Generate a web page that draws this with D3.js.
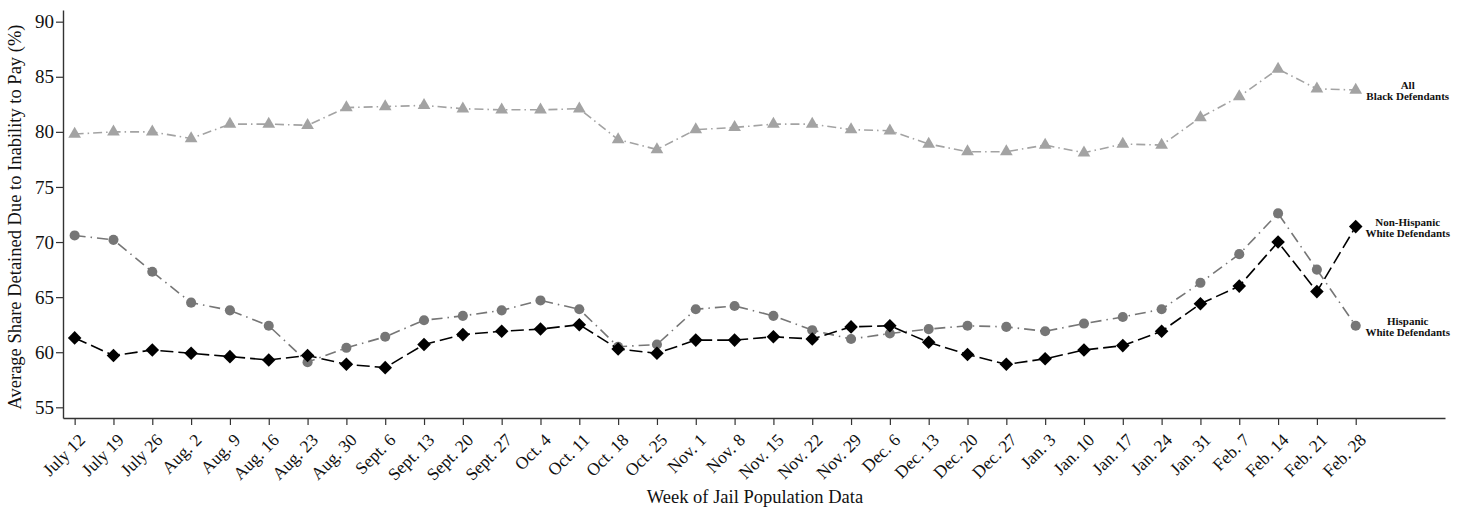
<!DOCTYPE html>
<html lang="en">
<head>
<meta charset="UTF-8">
<title>Share Detained Due to Inability to Pay</title>
<script src="https://d3js.org/d3.v7.min.js"></script>
<style>
  body { margin: 0; background: #fff; }
  svg { display: block; font-family: "Liberation Serif", "DejaVu Serif", serif; }
</style>
</head>
<body>
<div id="chart"></div>
<script>
// weeks of jail population data
const weeks = ["July 12", "July 19", "July 26", "Aug. 2", "Aug. 9", "Aug. 16", "Aug. 23", "Aug. 30",
  "Sept. 6", "Sept. 13", "Sept. 20", "Sept. 27", "Oct. 4", "Oct. 11", "Oct. 18", "Oct. 25",
  "Nov. 1", "Nov. 8", "Nov. 15", "Nov. 22", "Nov. 29", "Dec. 6", "Dec. 13", "Dec. 20", "Dec. 27",
  "Jan. 3", "Jan. 10", "Jan. 17", "Jan. 24", "Jan. 31", "Feb. 7", "Feb. 14", "Feb. 21", "Feb. 28"];

const blackAll = [79.8, 80.0, 80.0, 79.4, 80.7, 80.7, 80.6, 82.2, 82.3, 82.4, 82.1, 82.0, 82.0, 82.1,
  79.3, 78.4, 80.2, 80.4, 80.7, 80.7, 80.2, 80.1, 78.9, 78.2, 78.2, 78.8, 78.1, 78.9, 78.8,
  81.3, 83.2, 85.7, 83.9, 83.8];

const hispanicWhite = [70.6, 70.2, 67.3, 64.5, 63.8, 62.4, 59.1, 60.4, 61.4, 62.9, 63.3, 63.8, 64.7, 63.9,
  60.5, 60.7, 63.9, 64.2, 63.3, 62.0, 61.2, 61.7, 62.1, 62.4, 62.3, 61.9, 62.6, 63.2, 63.9,
  66.3, 68.9, 72.6, 67.5, 62.4];

const nonHispanicWhite = [61.3, 59.7, 60.2, 59.9, 59.6, 59.3, 59.7, 58.9, 58.6, 60.7, 61.6, 61.9, 62.1, 62.5,
  60.3, 59.9, 61.1, 61.1, 61.4, 61.2, 62.3, 62.4, 60.9, 59.8, 58.9, 59.4, 60.2, 60.6, 61.9,
  64.4, 66.0, 70.0, 65.5, 71.4];

const yTicks = [55, 60, 65, 70, 75, 80, 85, 90];

const width = 1463, height = 508;
const plotLeft = 63, plotRight = 1445, plotTop = 10, plotBottom = 418;

const svg = d3.select("#chart").append("svg")
  .attr("width", width)
  .attr("height", height);

const x = d3.scaleLinear().domain([-0.3, 35.3]).range([plotLeft, plotRight]);
const y = d3.scaleLinear().domain([54.03, 91.06]).range([plotBottom, plotTop]);

// axes
const xAxis = svg.append("g")
  .attr("transform", `translate(0,${plotBottom})`)
  .call(d3.axisBottom(x).tickValues(d3.range(weeks.length)).tickSize(7).tickSizeOuter(0)
    .tickFormat(i => weeks[i]));
xAxis.select(".domain").attr("stroke", "#333").attr("stroke-width", 1.4);
xAxis.selectAll(".tick line").attr("stroke", "#333").attr("stroke-width", 1.2);
xAxis.selectAll(".tick text")
  .attr("text-anchor", "end")
  .attr("font-family", "Liberation Serif")
  .attr("font-size", 17.5)
  .attr("fill", "#111")
  .attr("y", 0)
  .attr("dy", 0)
  .attr("transform", "translate(11,23) rotate(-45)");

const yAxis = svg.append("g")
  .attr("transform", `translate(${plotLeft},0)`)
  .call(d3.axisLeft(y).tickValues(yTicks).tickSize(7).tickSizeOuter(0));
yAxis.select(".domain").attr("stroke", "#333").attr("stroke-width", 1.4);
yAxis.selectAll(".tick line").attr("stroke", "#333").attr("stroke-width", 1.2);
yAxis.selectAll(".tick text")
  .attr("font-family", "Liberation Serif")
  .attr("font-size", 19)
  .attr("fill", "#111")
  .attr("x", -9);

// axis titles
svg.append("text")
  .attr("x", 755)
  .attr("y", 503)
  .attr("text-anchor", "middle")
  .attr("font-size", 18.5)
  .attr("fill", "#111")
  .text("Week of Jail Population Data");

svg.append("text")
  .attr("transform", `translate(21,217) rotate(-90)`)
  .attr("text-anchor", "middle")
  .attr("font-size", 18.5)
  .attr("fill", "#111")
  .text("Average Share Detained Due to Inability to Pay (%)");

const series = [
  { values: blackAll, color: "#a3a3a3", dash: "9,4,1.5,4", symbol: d3.symbolTriangle, size: 70, rot: 0,
    label: ["All", "Black Defendants"] },
  { values: hispanicWhite, color: "#767676", dash: "11,5,1.5,5", symbol: d3.symbolCircle, size: 80, rot: 0,
    label: ["Hispanic", "White Defendants"] },
  { values: nonHispanicWhite, color: "#000", dash: "13,5", symbol: d3.symbolSquare, size: 92, rot: 45,
    label: ["Non-Hispanic", "White Defendants"] }
];

const line = d3.line().x((d, i) => x(i)).y(d => y(d));

series.forEach(s => {
  svg.append("path")
    .datum(s.values)
    .attr("fill", "none")
    .attr("stroke", s.color)
    .attr("stroke-width", 1.6)
    .attr("stroke-dasharray", s.dash)
    .attr("d", line);

  svg.append("g").selectAll("path")
    .data(s.values)
    .join("path")
    .attr("transform", (d, i) => `translate(${x(i)},${y(d)}) rotate(${s.rot})`)
    .attr("d", d3.symbol(s.symbol, s.size))
    .attr("fill", s.color);

  const last = s.values.length - 1;
  const lab = svg.append("text")
    .attr("x", x(last) + 52)
    .attr("y", y(s.values[last]) - 1)
    .attr("text-anchor", "middle")
    .attr("font-size", 11)
    .attr("font-weight", "bold")
    .attr("fill", "#111");
  lab.append("tspan").attr("x", x(last) + 52).text(s.label[0]);
  lab.append("tspan").attr("x", x(last) + 52).attr("dy", 11).text(s.label[1]);
});
</script>
</body>
</html>
